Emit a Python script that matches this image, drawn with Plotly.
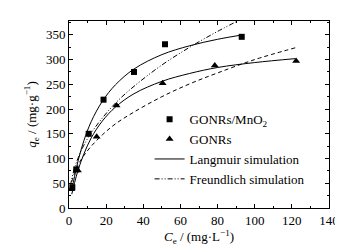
import plotly.graph_objects as go

# Experimental data
ce_mno2 = [1.8, 3.9, 10.6, 18.6, 35, 51.7, 93]
qe_mno2 = [42, 78, 150, 219, 275, 331, 346]
ce_gonr = [1.2, 4.8, 14.9, 25.6, 50.4, 78.5, 122.3]
qe_gonr = [38, 76, 144, 207, 252, 288, 297]

# Simulation curves
lang_mno2_c = [1.5, 3, 5, 8, 12, 18, 25, 35, 50, 65, 80, 92]
lang_mno2_q = [35, 64, 97, 136, 175, 216, 249, 281, 310, 328, 341, 349]
freu_mno2_c = [0.8, 1.5, 3, 5, 8, 12, 18, 25, 35, 50, 65, 80, 95]
freu_mno2_q = [45, 59, 81, 102, 127, 152, 182, 212, 246, 289, 325, 357, 386]
lang_gonr_c = [1.5, 3, 5, 8, 12, 18, 25, 35, 50, 65, 80, 100, 122]
lang_gonr_q = [28, 51, 78, 109, 142, 176, 204, 231, 256, 272, 284, 294, 302]
freu_gonr_c = [1.5, 3, 5, 8, 12, 18, 25, 35, 50, 65, 80, 100, 122]
freu_gonr_q = [53, 71, 88, 106, 125, 148, 170, 194, 225, 251, 273, 300, 324]

FONT = "Liberation Serif"

fig = go.Figure()
fig.add_trace(go.Scatter(x=ce_mno2, y=qe_mno2, mode="markers", name="GONRs/MnO<sub>2</sub>",
                         marker=dict(symbol="square", size=6, color="black")))
fig.add_trace(go.Scatter(x=ce_gonr, y=qe_gonr, mode="markers", name="GONRs",
                         marker=dict(symbol="triangle-up", size=7, color="black")))
fig.add_trace(go.Scatter(x=lang_mno2_c, y=lang_mno2_q, mode="lines", name="Langmuir simulation",
                         line=dict(color="black", width=1, shape="spline")))
fig.add_trace(go.Scatter(x=freu_mno2_c, y=freu_mno2_q, mode="lines", name="Freundlich simulation",
                         line=dict(color="black", width=1, dash="5px,2px,1px,2px,1px,2px",
                                   shape="spline")))
fig.add_trace(go.Scatter(x=lang_gonr_c, y=lang_gonr_q, mode="lines", showlegend=False,
                         line=dict(color="black", width=1, shape="spline")))
fig.add_trace(go.Scatter(x=freu_gonr_c, y=freu_gonr_q, mode="lines", showlegend=False,
                         line=dict(color="black", width=1, dash="4px,3px", shape="spline")))

axis_common = dict(showline=True, linecolor="black", linewidth=1, mirror="ticks",
                   ticks="inside", ticklen=4, tickcolor="black", showgrid=False, zeroline=False,
                   tickfont=dict(family=FONT, size=13, color="black"))
fig.update_xaxes(range=[0, 140], tick0=0, dtick=20,
                 minor=dict(dtick=10, ticks="inside", ticklen=2, tickcolor="black"),
                 title=dict(text="<i>C</i><sub>e</sub> / (mg·L<sup>−1</sup>)",
                            font=dict(family=FONT, size=13, color="black"), standoff=4),
                 **axis_common)
fig.update_yaxes(range=[0, 378], tick0=0, dtick=50,
                 minor=dict(dtick=25, ticks="inside", ticklen=2, tickcolor="black"),
                 title=dict(text="<i>q</i><sub>e</sub> / (mg·g<sup>−1</sup>)",
                            font=dict(family=FONT, size=13, color="black"), standoff=6),
                 **axis_common)

fig.update_layout(
    width=343, height=245,
    margin=dict(l=61, r=21, t=12, b=44),
    paper_bgcolor="white", plot_bgcolor="white",
    font=dict(family=FONT, size=13, color="black"),
    legend=dict(x=0.31, y=0.555, xanchor="left", yanchor="top", bgcolor="rgba(0,0,0,0)",
                font=dict(family=FONT, size=13, color="black"), tracegroupgap=0,
                itemwidth=30),
)

fig.write_html("out.html")
